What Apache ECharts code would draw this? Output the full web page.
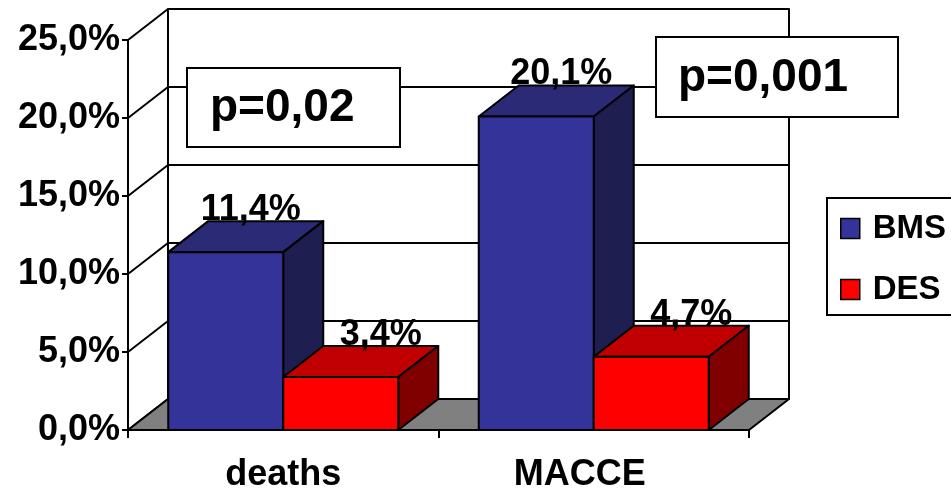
<!DOCTYPE html>
<html>
<head>
<meta charset="utf-8">
<script src="https://cdn.jsdelivr.net/npm/echarts@6/dist/echarts.min.js"></script>
<style>
  html, body { margin: 0; padding: 0; background: #ffffff; }
  #chart { width: 951px; height: 488px; }
</style>
</head>
<body>
<div id="chart"></div>
<script>
// ---- data ----
const categories = ['deaths', 'MACCE'];
const bmsValues = [11.4, 20.1];
const desValues = [3.4, 4.7];
const yTicks = [0, 5, 10, 15, 20, 25];
const pLabels = ['p=0,02', 'p=0,001'];

// ---- look ----
const FONT = '"Liberation Sans", Arial, Helvetica, sans-serif';
const DEPTH_X = 40;      // horizontal shift of the back plane
const DEPTH_Y = -31;     // vertical shift of the back plane
const BAR_FRAC = 0.3704; // bar width as a share of the category band

const palettes = {
  BMS: { front: '#333399', top: '#2a2a76', side: '#1e1e50' },
  DES: { front: '#ff0000', top: '#c00000', side: '#800000' }
};

const pBoxLayout = [
  { x: 187, y: 68, w: 213, h: 79, pad: 23 },
  { x: 656, y: 37, w: 242, h: 80, pad: 22 }
];

function fmtPct(v) {
  return Number(v).toFixed(1).replace('.', ',') + '%';
}

const edge = { stroke: '#000', lineWidth: 2, lineJoin: 'round' };

// back wall, side-wall grid lines and floor of the 3D box
function frameRenderer(params, api) {
  const n = categories.length;
  const band = api.size([1, 0])[0];
  const left = api.coord([0, 0])[0] - band / 2;
  const right = api.coord([n - 1, 0])[0] + band / 2;
  const y0 = api.coord([0, yTicks[0]])[1];
  const yTop = api.coord([0, yTicks[yTicks.length - 1]])[1];
  const dx = DEPTH_X, dy = DEPTH_Y;
  const children = [];
  children.push({
    type: 'rect',
    shape: { x: left + dx, y: yTop + dy, width: right - left, height: y0 - yTop },
    style: Object.assign({ fill: '#ffffff' }, edge)
  });
  yTicks.forEach(function (t) {
    const y = api.coord([0, t])[1];
    children.push({
      type: 'line',
      shape: { x1: left + dx, y1: y + dy, x2: right + dx, y2: y + dy },
      style: { stroke: '#000', lineWidth: 2 }
    });
    children.push({
      type: 'line',
      shape: { x1: left, y1: y, x2: left + dx, y2: y + dy },
      style: { stroke: '#000', lineWidth: 2 }
    });
  });
  children.push({
    type: 'polygon',
    shape: { points: [[left, y0], [right, y0], [right + dx, y0 + dy], [left + dx, y0 + dy]] },
    style: Object.assign({ fill: '#808080' }, edge)
  });
  return { type: 'group', children: children };
}

// one 3D bar (front, top, right side) plus its value label
function barRenderer(name, slot, labelShift) {
  const pal = palettes[name];
  return function (params, api) {
    const cat = api.value(0);
    const val = api.value(1);
    const base = api.coord([cat, 0]);
    const topPt = api.coord([cat, val]);
    const bw = api.size([1, 0])[0] * BAR_FRAC;
    const x0 = base[0] + (slot === 0 ? -bw : 0);
    const x1 = x0 + bw;
    const yb = base[1];
    const yt = topPt[1];
    const dx = DEPTH_X, dy = DEPTH_Y;
    return {
      type: 'group',
      children: [
        {
          type: 'polygon',
          shape: { points: [[x0, yt], [x1, yt], [x1 + dx, yt + dy], [x0 + dx, yt + dy]] },
          style: Object.assign({ fill: pal.top }, edge)
        },
        {
          type: 'polygon',
          shape: { points: [[x1, yt], [x1 + dx, yt + dy], [x1 + dx, yb + dy], [x1, yb]] },
          style: Object.assign({ fill: pal.side }, edge)
        },
        {
          type: 'rect',
          shape: { x: x0, y: yt, width: bw, height: yb - yt },
          style: Object.assign({ fill: pal.front }, edge)
        },
        {
          type: 'text',
          x: (x0 + x1 + dx) / 2 + labelShift,
          y: yt + dy + 7,
          z2: 10,
          style: {
            text: fmtPct(val),
            font: 'bold 36px ' + FONT,
            fill: '#000',
            align: 'center',
            verticalAlign: 'bottom'
          }
        }
      ]
    };
  };
}

const chart = echarts.init(document.getElementById('chart'), null, { renderer: 'canvas' });

const pGraphics = [];
pLabels.forEach(function (txt, i) {
  const b = pBoxLayout[i];
  pGraphics.push({
    type: 'rect',
    z: 100,
    zlevel: 0,
    shape: { x: b.x, y: b.y, width: b.w, height: b.h },
    style: { fill: '#ffffff', stroke: '#000', lineWidth: 2 }
  });
  pGraphics.push({
    type: 'text',
    z: 101,
    zlevel: 0,
    x: b.x + b.pad,
    y: b.y + b.h / 2 + 1,
    style: {
      text: txt,
      font: 'bold 46px ' + FONT,
      fill: '#000',
      align: 'left',
      verticalAlign: 'middle'
    }
  });
});

chart.setOption({
  animation: false,
  backgroundColor: '#ffffff',
  grid: {
    left: 128, top: 40, width: 621, height: 390,
    containLabel: false,
    outerBoundsMode: 'none'
  },
  xAxis: {
    type: 'category',
    data: categories,
    boundaryGap: true,
    axisLine: { show: true, lineStyle: { color: '#000', width: 2 } },
    axisTick: { show: true, length: 8, lineStyle: { color: '#000', width: 2 } },
    axisLabel: {
      margin: 27,
      color: '#000',
      fontSize: 36,
      fontWeight: 'bold',
      fontFamily: FONT,
      formatter: function (v) { return v === 'MACCE' ? '{m|' + v + '}' : '{d|' + v + '}'; },
      rich: {
        d: { fontSize: 36, fontWeight: 'bold', fontFamily: FONT, color: '#000' },
        m: { fontSize: 36, fontWeight: 'bold', fontFamily: FONT, color: '#000', padding: [0, 28, 0, 0] }
      }
    },
    splitLine: { show: false }
  },
  yAxis: {
    type: 'value',
    min: yTicks[0],
    max: yTicks[yTicks.length - 1],
    interval: yTicks[1] - yTicks[0],
    axisLine: { show: true, lineStyle: { color: '#000', width: 2 } },
    axisTick: { show: true, length: 6, lineStyle: { color: '#000', width: 2 } },
    axisLabel: {
      margin: 8,
      color: '#000',
      fontSize: 36,
      fontWeight: 'bold',
      fontFamily: FONT,
      formatter: fmtPct
    },
    splitLine: { show: false }
  },
  legend: {
    data: ['BMS', 'DES'],
    orient: 'vertical',
    left: 827,
    top: 198,
    padding: [14, 40, 9, 13],
    itemGap: 28,
    itemWidth: 19,
    itemHeight: 20,
    icon: 'rect',
    selectedMode: false,
    backgroundColor: '#ffffff',
    borderColor: '#000',
    borderWidth: 2,
    itemStyle: { borderColor: '#000', borderWidth: 1.5 },
    textStyle: {
      fontSize: 33,
      fontWeight: 'bold',
      fontFamily: FONT,
      color: '#000',
      lineHeight: 20,
      padding: [0, 0, 0, 8]
    }
  },
  graphic: { elements: pGraphics },
  series: [
    {
      type: 'custom',
      name: 'frame',
      silent: true,
      z: 1,
      data: [[0, 0]],
      encode: { x: 0, y: 1 },
      renderItem: frameRenderer
    },
    {
      type: 'custom',
      name: 'BMS',
      z: 2,
      itemStyle: { color: palettes.BMS.front },
      data: bmsValues.map(function (v, i) { return [i, v]; }),
      encode: { x: 0, y: 1 },
      renderItem: barRenderer('BMS', 0, 5)
    },
    {
      type: 'custom',
      name: 'DES',
      z: 3,
      itemStyle: { color: palettes.DES.front },
      data: desValues.map(function (v, i) { return [i, v]; }),
      encode: { x: 0, y: 1 },
      renderItem: barRenderer('DES', 1, 20)
    }
  ]
});
</script>
</body>
</html>
